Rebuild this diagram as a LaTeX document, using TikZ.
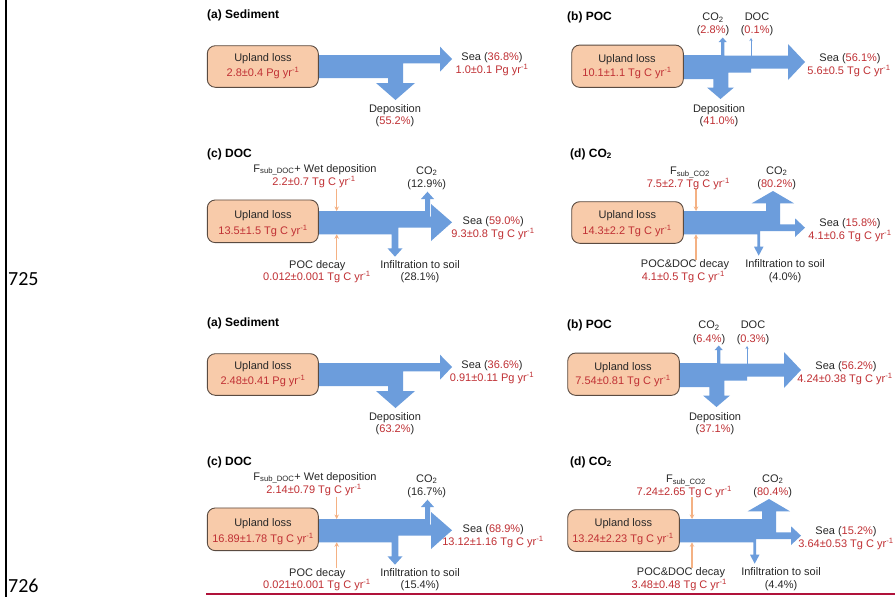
\documentclass[tikz,border=0pt]{standalone}
\usepackage{fontspec}
\setmainfont{Liberation Sans}
\newfontfamily\lnfont{Carlito}
\usetikzlibrary{arrows.meta}
\definecolor{flowblue}{RGB}{108,157,220}
\definecolor{boxfill}{RGB}{248,203,170}
\definecolor{boxdraw}{RGB}{90,75,65}
\definecolor{txtred}{RGB}{192,48,52}
\definecolor{txtblk}{RGB}{40,40,40}
\definecolor{orline}{RGB}{244,177,131}
\definecolor{rulered}{RGB}{176,18,58}
\newcommand{\rd}[1]{\textcolor{txtred}{#1}}
\newcommand{\yrm}{yr\textsuperscript{-1}}
\tikzset{
 lbl/.style={font=\fontsize{11}{13}\selectfont, text=txtblk, inner sep=0pt, anchor=base},
 val/.style={lbl, text=txtred},
 ttl/.style={font=\bfseries\fontsize{12}{14}\selectfont, text=black, inner sep=0pt, anchor=base west},
 upbox/.style={draw=boxdraw, fill=boxfill, rounded corners=8pt, line width=0.9pt, inner sep=0pt},
 flow/.style={fill=flowblue, draw=none},
 orarrow/.style={draw=orline, line width=1.1pt, -{Stealth[length=4.5pt,width=4.5pt]}},
 thinflow/.style={draw=flowblue, line width=0.9pt, -{Stealth[length=3pt,width=3pt]}},
 lnum/.style={font=\lnfont\fontsize{20}{24}\selectfont, text=black, inner sep=0pt, anchor=base west},
}
% panel (a): #1 prefix, #2 upland value, #3 sea pct, #4 sea value, #5 deposition pct
\newcommand{\panelSed}[5]{%
 \fill[flow] (317,55) -- (440,55) -- (440,46.7) -- (452,59) -- (440,71.7) -- (440,63.3) -- (403,63.3) -- (403,83) -- (415,83) -- (395.5,100) -- (376,83) -- (388,83) -- (388,78) -- (317,78) -- cycle;
 \node[upbox, minimum width=111pt, minimum height=41.6pt] (#1box) at (262.8,66.5) {};
 \node[lbl] (#1up) at (263,61.5) {Upland loss};
 \node[val] (#1upv) at (263,76) {#2};
 \node[lbl] (#1sea) at (492,60.8) {Sea (\rd{#3})};
 \node[val] (#1seav) at (492,73.5) {#4};
 \node[lbl] (#1dep) at (395,112) {Deposition};
 \node[lbl] (#1depp) at (395,124.5) {(\rd{#5})};
}
% panel (b): #1 prefix, #2 upland value, #3 CO2 pct, #4 DOC pct, #5 sea pct, #6 sea value, #7 dep pct
\newcommand{\panelPoc}[7]{%
 \fill[flow] (682,55) -- (721,55) -- (721,42) -- (718.7,42) -- (722.7,37.5) -- (726.7,42) -- (724.4,42) -- (724.4,55.6) -- (788,55.6) -- (788,44) -- (805,62) -- (788,80) -- (788,68.5) -- (751,68.5) -- (751,72.7) -- (728.3,72.7) -- (728.3,87.5) -- (734,87.5) -- (720.5,99) -- (707,87.5) -- (713.3,87.5) -- (713.3,79) -- (682,79) -- cycle;
 \coordinate (#1docs) at (751,56);
 \coordinate (#1doct) at (751,38);
 \draw[thinflow] (#1docs) -- (#1doct);
 \node[upbox, minimum width=111.6pt, minimum height=42.3pt] (#1box) at (627.5,66.2) {};
 \node[lbl] (#1up) at (627,62) {Upland loss};
 \node[val] (#1upv) at (627,76) {#2};
 \node[lbl] (#1co) at (713,20.6) {CO\textsubscript{2}};
 \node[lbl] (#1cop) at (713,34) {(\rd{#3})};
 \node[lbl] (#1doc) at (757,20.6) {DOC};
 \node[lbl] (#1docp) at (757,34) {(\rd{#4})};
 \node[lbl] (#1sea) at (850,61.3) {Sea (\rd{#5})};
 \node[val] (#1seav) at (849,74.6) {#6};
 \node[lbl] (#1dep) at (719,112) {Deposition};
 \node[lbl] (#1depp) at (719,124.5) {(\rd{#7})};
}
% panel (c): #1 prefix, #2 F value, #3 upland value, #4 CO2 pct, #5 sea pct, #6 sea value, #7 POC decay value, #8 infiltration pct
\newcommand{\panelDoc}[8]{%
 \fill[flow] (317,211) -- (425,211) -- (425,199) -- (421,199) -- (427.5,191.7) -- (434,199) -- (430,199) -- (430,216.7) -- (431,216.7) -- (431,204) -- (452,222.3) -- (431,241) -- (431,227.7) -- (398.3,227.7) -- (398.3,248.3) -- (402.5,248.3) -- (395,256.7) -- (387.5,248.3) -- (391.7,248.3) -- (391.7,234.3) -- (317,234.3) -- cycle;
 \coordinate (#1fa) at (336.7,188.5);
 \coordinate (#1fb) at (336.7,211);
 \coordinate (#1pa) at (336.7,260);
 \coordinate (#1pb) at (336.7,234.3);
 \draw[orarrow] (#1fa) -- (#1fb);
 \draw[orarrow] (#1pa) -- (#1pb);
 \node[upbox, minimum width=111pt, minimum height=42.7pt] (#1box) at (262.8,221.3) {};
 \node[lbl] (#1f) at (315,172) {F\textsubscript{sub\_DOC}+ Wet deposition};
 \node[val] (#1fv) at (314,185.2) {#2};
 \node[lbl] (#1up) at (263,218) {Upland loss};
 \node[val] (#1upv) at (263,234) {#3};
 \node[lbl] (#1co) at (426.7,174) {CO\textsubscript{2}};
 \node[lbl] (#1cop) at (426.7,187.3) {(#4)};
 \node[lbl] (#1sea) at (493.3,224.5) {Sea (\rd{#5})};
 \node[val] (#1seav) at (493,237.3) {#6};
 \node[lbl] (#1poc) at (317.3,268) {POC decay};
 \node[val] (#1pocv) at (317,280.6) {#7};
 \node[lbl] (#1inf) at (420,268) {Infiltration to soil};
 \node[lbl] (#1infp) at (420,280.6) {(#8)};
}
% panel (d): #1 prefix, #2 F value, #3 upland value, #4 CO2 pct, #5 sea pct, #6 sea value, #7 decay value, #8 infiltration pct
\newcommand{\panelCo}[8]{%
 \fill[flow] (682,211) -- (766,211) -- (766,203.3) -- (751.7,203.3) -- (773,191) -- (794,203.3) -- (780,203.3) -- (780,224.3) -- (795,224.3) -- (795,218.3) -- (805,227.7) -- (795,237) -- (795,231) -- (760,231) -- (760,246.7) -- (763.5,246.7) -- (758.7,255.7) -- (754,246.7) -- (757.3,246.7) -- (757.3,234.3) -- (682,234.3) -- cycle;
 \coordinate (#1fa) at (696,188.5);
 \coordinate (#1fb) at (696,211);
 \coordinate (#1pa) at (696,260);
 \coordinate (#1pb) at (696,234.3);
 \draw[orarrow] (#1fa) -- (#1fb);
 \draw[orarrow] (#1pa) -- (#1pb);
 \node[upbox, minimum width=111.6pt, minimum height=41.6pt] (#1box) at (627.5,222.5) {};
 \node[lbl] (#1f) at (690,174.7) {F\textsubscript{sub\_CO2}};
 \node[val] (#1fv) at (688.3,187.3) {#2};
 \node[lbl] (#1up) at (627.3,218) {Upland loss};
 \node[val] (#1upv) at (627,234) {#3};
 \node[lbl] (#1co) at (776.7,174) {CO\textsubscript{2}};
 \node[lbl] (#1cop) at (776.7,187.3) {(\rd{#4})};
 \node[lbl] (#1sea) at (850,226.3) {Sea (\rd{#5})};
 \node[val] (#1seav) at (850,239.6) {#6};
 \node[lbl] (#1dec) at (685,267.3) {POC\&DOC decay};
 \node[val] (#1decv) at (683.3,280.6) {#7};
 \node[lbl] (#1inf) at (785,267.3) {Infiltration to soil};
 \node[lbl] (#1infp) at (785,280.6) {(#8)};
}
\begin{document}
\begin{tikzpicture}[x=1pt,y=-1pt]
\useasboundingbox (0,0) rectangle (895,597);
\fill[white] (0,0) rectangle (895,597);
% page margin elements
\draw[line width=2.3pt, black] (6,0) -- (6,597);
\node[lnum] (ln1) at (8,285) {725};
\node[lnum] (ln2) at (8,592) {726};
\draw[rulered, line width=2.2pt] (206,593.8) -- (895,593.8);
% upper set
\node[ttl] (t1a) at (207,18.8) {(a) Sediment};
\node[ttl] (t1b) at (567,20) {(b) POC};
\node[ttl] (t1c) at (207,157) {(c) DOC};
\node[ttl] (t1d) at (570,157) {(d) CO\textsubscript{2}};
\panelSed{ua}{2.8±0.4 Pg \yrm}{36.8\%}{1.0±0.1 Pg \yrm}{55.2\%}
\panelPoc{ub}{10.1±1.1 Tg C \yrm}{2.8\%}{0.1\%}{56.1\%}{5.6±0.5 Tg C \yrm}{41.0\%}
\panelDoc{uc}{2.2±0.7 Tg C \yrm}{13.5±1.5 Tg C \yrm}{12.9\%}{59.0\%}{9.3±0.8 Tg C \yrm}{0.012±0.001 Tg C \yrm}{28.1\%}
\panelCo{ud}{7.5±2.7 Tg C \yrm}{14.3±2.2 Tg C \yrm}{80.2\%}{15.8\%}{4.1±0.6 Tg C \yrm}{4.1±0.5 Tg C \yrm}{4.0\%}
% lower set
\node[ttl] (t2a) at (207,326.8) {(a) Sediment};
\node[ttl] (t2b) at (567,328) {(b) POC};
\node[ttl] (t2c) at (207,465) {(c) DOC};
\node[ttl] (t2d) at (570,465) {(d) CO\textsubscript{2}};
\begin{scope}[shift={(0,308)}]
\panelSed{la}{2.48±0.41 Pg \yrm}{36.6\%}{0.91±0.11 Pg \yrm}{63.2\%}
\panelDoc{lc}{2.14±0.79 Tg C \yrm}{16.89±1.78 Tg C \yrm}{16.7\%}{68.9\%}{13.12±1.16 Tg C \yrm}{0.021±0.001 Tg C \yrm}{15.4\%}
\end{scope}
\begin{scope}[shift={(-4,308)}]
\panelPoc{lb}{7.54±0.81 Tg C \yrm}{6.4\%}{0.3\%}{56.2\%}{4.24±0.38 Tg C \yrm}{37.1\%}
\panelCo{ld}{7.24±2.65 Tg C \yrm}{13.24±2.23 Tg C \yrm}{80.4\%}{15.2\%}{3.64±0.53 Tg C \yrm}{3.48±0.48 Tg C \yrm}{4.4\%}
\end{scope}
\end{tikzpicture}
\end{document}
